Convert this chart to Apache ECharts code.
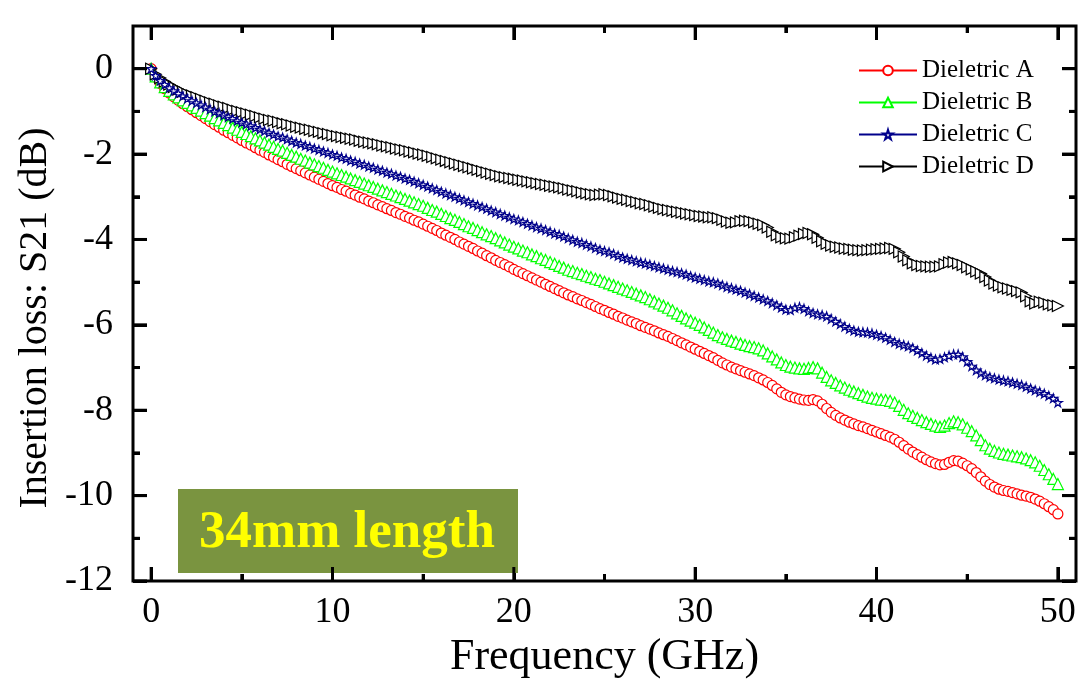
<!DOCTYPE html>
<html><head><meta charset="utf-8">
<script src="https://cdn.jsdelivr.net/npm/echarts@6/dist/echarts.min.js"></script>
<style>html,body{margin:0;padding:0;background:#fff}#c{width:1079px;height:699px}</style>
</head><body><div id="c"></div>
<script>
const freqStepGHz = 0.25;
const seriesNames = ['Dieletric A', 'Dieletric B', 'Dieletric C', 'Dieletric D'];
const seriesColors = ['#ff0000', '#00ff00', '#00008b', '#000000'];

const dielA = [0,-0.20,-0.35,-0.47,-0.57,-0.66,-0.74,-0.82,-0.89,-0.96,-1.03,-1.10,-1.17,-1.24,-1.31,-1.37,-1.44,-1.50,-1.56,-1.62,
-1.68,-1.74,-1.79,-1.85,-1.91,-1.96,-2.02,-2.07,-2.13,-2.18,-2.24,-2.29,-2.34,-2.39,-2.44,-2.49,-2.54,-2.59,-2.64,-2.69,
-2.74,-2.78,-2.83,-2.87,-2.92,-2.96,-3.01,-3.05,-3.10,-3.14,-3.19,-3.23,-3.28,-3.32,-3.37,-3.41,-3.46,-3.50,-3.55,-3.59,
-3.64,-3.69,-3.74,-3.79,-3.85,-3.90,-3.95,-4.00,-4.06,-4.11,-4.16,-4.21,-4.27,-4.32,-4.38,-4.43,-4.49,-4.54,-4.59,-4.64,
-4.70,-4.75,-4.80,-4.85,-4.90,-4.95,-5.00,-5.05,-5.10,-5.15,-5.20,-5.25,-5.30,-5.34,-5.39,-5.43,-5.48,-5.52,-5.57,-5.62,
-5.66,-5.71,-5.75,-5.80,-5.84,-5.89,-5.93,-5.97,-6.02,-6.06,-6.10,-6.14,-6.19,-6.23,-6.27,-6.32,-6.37,-6.42,-6.47,-6.52,
-6.57,-6.62,-6.67,-6.72,-6.77,-6.83,-6.89,-6.94,-6.99,-7.03,-7.07,-7.11,-7.15,-7.19,-7.24,-7.29,-7.35,-7.42,-7.50,-7.58,
-7.64,-7.68,-7.71,-7.74,-7.76,-7.77,-7.75,-7.78,-7.86,-7.96,-8.05,-8.12,-8.18,-8.23,-8.28,-8.32,-8.36,-8.39,-8.43,-8.47,
-8.51,-8.55,-8.59,-8.63,-8.68,-8.75,-8.83,-8.91,-8.98,-9.04,-9.10,-9.16,-9.21,-9.25,-9.28,-9.27,-9.22,-9.18,-9.19,-9.24,
-9.30,-9.37,-9.46,-9.56,-9.66,-9.74,-9.80,-9.85,-9.88,-9.90,-9.93,-9.96,-9.99,-10.01,-10.04,-10.08,-10.13,-10.19,-10.26,-10.33,
-10.43];

const dielB = [0,-0.18,-0.32,-0.43,-0.52,-0.60,-0.67,-0.74,-0.80,-0.86,-0.92,-0.98,-1.04,-1.10,-1.16,-1.21,-1.27,-1.32,-1.38,-1.43,
-1.48,-1.53,-1.58,-1.63,-1.68,-1.73,-1.78,-1.83,-1.88,-1.92,-1.97,-2.02,-2.06,-2.11,-2.15,-2.20,-2.24,-2.28,-2.32,-2.37,
-2.41,-2.45,-2.49,-2.53,-2.57,-2.61,-2.65,-2.69,-2.73,-2.77,-2.81,-2.85,-2.89,-2.93,-2.97,-3.01,-3.05,-3.09,-3.13,-3.17,
-3.21,-3.26,-3.31,-3.35,-3.40,-3.45,-3.50,-3.54,-3.59,-3.64,-3.69,-3.73,-3.78,-3.83,-3.88,-3.92,-3.97,-4.02,-4.07,-4.12,
-4.17,-4.21,-4.26,-4.30,-4.35,-4.39,-4.44,-4.48,-4.53,-4.57,-4.62,-4.66,-4.71,-4.74,-4.78,-4.81,-4.85,-4.88,-4.92,-4.95,
-4.99,-5.03,-5.07,-5.11,-5.15,-5.19,-5.23,-5.27,-5.31,-5.35,-5.40,-5.45,-5.50,-5.55,-5.60,-5.66,-5.73,-5.79,-5.85,-5.90,
-5.95,-6.00,-6.06,-6.12,-6.18,-6.24,-6.29,-6.33,-6.37,-6.40,-6.44,-6.47,-6.50,-6.52,-6.55,-6.60,-6.67,-6.74,-6.81,-6.88,
-6.94,-6.98,-7.00,-7.02,-7.03,-7.01,-6.99,-7.02,-7.12,-7.22,-7.30,-7.36,-7.42,-7.47,-7.52,-7.56,-7.60,-7.64,-7.68,-7.71,
-7.73,-7.75,-7.76,-7.78,-7.82,-7.90,-7.99,-8.07,-8.13,-8.18,-8.23,-8.28,-8.32,-8.36,-8.39,-8.36,-8.30,-8.26,-8.28,-8.33,
-8.41,-8.49,-8.59,-8.70,-8.82,-8.90,-8.95,-8.99,-9.02,-9.04,-9.06,-9.08,-9.10,-9.13,-9.17,-9.22,-9.30,-9.40,-9.50,-9.61,
-9.73];

const dielC = [0,-0.16,-0.28,-0.37,-0.45,-0.52,-0.58,-0.64,-0.70,-0.75,-0.80,-0.85,-0.90,-0.95,-1.00,-1.04,-1.09,-1.13,-1.17,-1.22,
-1.26,-1.30,-1.34,-1.38,-1.42,-1.46,-1.50,-1.54,-1.58,-1.61,-1.65,-1.69,-1.73,-1.76,-1.80,-1.83,-1.87,-1.90,-1.94,-1.97,
-2.01,-2.04,-2.08,-2.11,-2.15,-2.18,-2.22,-2.25,-2.29,-2.32,-2.36,-2.39,-2.43,-2.46,-2.50,-2.53,-2.57,-2.60,-2.64,-2.68,
-2.72,-2.76,-2.80,-2.84,-2.88,-2.92,-2.96,-3.00,-3.04,-3.08,-3.12,-3.16,-3.20,-3.24,-3.28,-3.32,-3.36,-3.40,-3.44,-3.48,
-3.52,-3.55,-3.59,-3.63,-3.67,-3.71,-3.74,-3.78,-3.82,-3.86,-3.89,-3.93,-3.97,-4.01,-4.05,-4.08,-4.12,-4.16,-4.20,-4.24,
-4.27,-4.30,-4.34,-4.38,-4.42,-4.45,-4.48,-4.51,-4.54,-4.56,-4.59,-4.62,-4.65,-4.68,-4.71,-4.74,-4.76,-4.79,-4.82,-4.86,
-4.89,-4.92,-4.95,-4.98,-5.00,-5.03,-5.07,-5.11,-5.14,-5.17,-5.20,-5.24,-5.28,-5.32,-5.36,-5.40,-5.44,-5.49,-5.54,-5.59,
-5.64,-5.65,-5.60,-5.58,-5.62,-5.68,-5.72,-5.75,-5.77,-5.80,-5.86,-5.92,-5.98,-6.04,-6.09,-6.13,-6.16,-6.17,-6.18,-6.20,
-6.23,-6.26,-6.30,-6.35,-6.40,-6.44,-6.47,-6.50,-6.54,-6.60,-6.66,-6.72,-6.77,-6.81,-6.80,-6.76,-6.72,-6.69,-6.69,-6.75,
-6.86,-6.97,-7.06,-7.13,-7.18,-7.22,-7.25,-7.28,-7.30,-7.32,-7.35,-7.38,-7.41,-7.45,-7.49,-7.53,-7.57,-7.61,-7.66,-7.72,
-7.82];

const dielD = [0,-0.13,-0.22,-0.30,-0.37,-0.43,-0.49,-0.54,-0.59,-0.63,-0.67,-0.71,-0.75,-0.79,-0.82,-0.86,-0.89,-0.92,-0.96,-0.99,
-1.02,-1.05,-1.08,-1.11,-1.14,-1.17,-1.20,-1.22,-1.25,-1.28,-1.30,-1.33,-1.36,-1.38,-1.41,-1.43,-1.46,-1.48,-1.51,-1.53,
-1.56,-1.58,-1.60,-1.62,-1.64,-1.66,-1.69,-1.71,-1.73,-1.75,-1.77,-1.80,-1.82,-1.84,-1.87,-1.89,-1.91,-1.94,-1.96,-1.99,
-2.01,-2.04,-2.07,-2.10,-2.13,-2.16,-2.19,-2.22,-2.25,-2.28,-2.31,-2.34,-2.37,-2.40,-2.43,-2.46,-2.49,-2.52,-2.54,-2.56,
-2.58,-2.60,-2.62,-2.64,-2.66,-2.68,-2.70,-2.72,-2.74,-2.76,-2.78,-2.80,-2.83,-2.85,-2.87,-2.90,-2.92,-2.94,-2.96,-2.95,
-2.94,-2.96,-2.99,-3.02,-3.05,-3.07,-3.10,-3.12,-3.15,-3.17,-3.20,-3.23,-3.26,-3.29,-3.31,-3.33,-3.35,-3.37,-3.39,-3.41,
-3.43,-3.45,-3.46,-3.48,-3.48,-3.50,-3.54,-3.58,-3.61,-3.60,-3.57,-3.56,-3.57,-3.60,-3.63,-3.66,-3.72,-3.82,-3.90,-3.95,
-3.97,-3.98,-3.95,-3.91,-3.87,-3.85,-3.88,-3.96,-4.04,-4.10,-4.14,-4.17,-4.19,-4.21,-4.22,-4.24,-4.25,-4.26,-4.25,-4.24,
-4.23,-4.22,-4.21,-4.20,-4.22,-4.30,-4.40,-4.49,-4.56,-4.60,-4.62,-4.63,-4.64,-4.64,-4.63,-4.58,-4.54,-4.53,-4.56,-4.60,
-4.65,-4.70,-4.75,-4.80,-4.88,-4.96,-5.03,-5.08,-5.12,-5.15,-5.18,-5.21,-5.24,-5.33,-5.45,-5.50,-5.46,-5.48,-5.52,-5.54,
-5.56];

const xRange = [-1, 51];
const yRange = [-12, 1];
const xTickRange = [0, 50];
const yTickRange = [-12, 0];
const xTickStep = 10;
const yTickStep = 2;
const xMajorTicks = [0, 10, 20, 30, 40, 50];
const xMinorTicks = [5, 15, 25, 35, 45];
const yMajorTicks = [0, -2, -4, -6, -8, -10, -12];
const yMinorTicks = [-1, -3, -5, -7, -9, -11];

const FONT = '"Liberation Serif", "Times New Roman", serif';
const starPath = 'path://M50,0 L61,35 L98,35 L68,57 L79,91 L50,70 L21,91 L32,57 L2,35 L39,35 Z';
const symbols = ['circle', 'triangle', starPath, 'triangle'];
const symbolSizes = [10, 11, 9, 11];
const symbolRotates = [0, 0, 0, -90];

const allData = [dielA, dielB, dielC, dielD];
const freq = dielA.map((_, i) => i * freqStepGHz);

const W = 1079, H = 699;
const frame = { left: 133, right: 3, top: 26, bottom: 118 };
const fw = W - frame.left - frame.right, fh = H - frame.top - frame.bottom;
const pxPerX = fw / (xRange[1] - xRange[0]);
const pxPerY = fh / (yRange[1] - yRange[0]);
const gridX = { left: frame.left + (xTickRange[0] - xRange[0]) * pxPerX, right: frame.right + (xRange[1] - xTickRange[1]) * pxPerX, top: frame.top, bottom: frame.bottom };
const gridY = { left: frame.left, right: frame.right, top: frame.top + (yRange[1] - yTickRange[1]) * pxPerY, bottom: frame.bottom + (yTickRange[0] - yRange[0]) * pxPerY };

function labelAxis(gi, pos, range, step, isX) {
  return {
    type: 'value', gridIndex: gi, position: pos, min: range[0], max: range[1], interval: step,
    axisLine: { show: false, onZero: false },
    axisTick: { show: false },
    axisLabel: { show: true, margin: isX ? 14 : 20, fontFamily: FONT, fontSize: 36, color: '#000' },
    splitLine: { show: false }
  };
}
const xLabels = labelAxis(1, 'bottom', xTickRange, xTickStep, true);
xLabels.name = 'Frequency (GHz)';
xLabels.nameLocation = 'middle';
xLabels.nameGap = 52;
xLabels.nameTextStyle = { fontFamily: FONT, fontSize: 44, color: '#000' };

// inward tick segments, expressed in the main axes' data units (14 px major, 7 px minor)
const majX = 14 / pxPerX, minX = 7 / pxPerX, majY = 14 / pxPerY, minY = 7 / pxPerY;
const tickSegs = [];
xMajorTicks.forEach(v => { tickSegs.push([{ coord: [v, yRange[0]] }, { coord: [v, yRange[0] + majY] }]); tickSegs.push([{ coord: [v, yRange[1]] }, { coord: [v, yRange[1] - majY] }]); });
xMinorTicks.forEach(v => { tickSegs.push([{ coord: [v, yRange[0]] }, { coord: [v, yRange[0] + minY] }]); tickSegs.push([{ coord: [v, yRange[1]] }, { coord: [v, yRange[1] - minY] }]); });
yMajorTicks.forEach(v => { tickSegs.push([{ coord: [xRange[0], v] }, { coord: [xRange[0] + majX, v] }]); tickSegs.push([{ coord: [xRange[1], v] }, { coord: [xRange[1] - majX, v] }]); });
yMinorTicks.forEach(v => { tickSegs.push([{ coord: [xRange[0], v] }, { coord: [xRange[0] + minX, v] }]); tickSegs.push([{ coord: [xRange[1], v] }, { coord: [xRange[1] - minX, v] }]); });

const dataSeries = seriesNames.map((n, k) => ({
  name: n, type: 'line', xAxisIndex: 0, yAxisIndex: 0,
  data: allData[k].map((v, i) => [freq[i], v]),
  symbol: symbols[k], symbolSize: symbolSizes[k], symbolRotate: symbolRotates[k], symbolKeepAspect: true,
  showSymbol: true,
  lineStyle: { color: seriesColors[k], width: 1.5 },
  itemStyle: { color: '#fff', borderColor: seriesColors[k], borderWidth: 1.2 },
  z: k === 2 ? 5 : 2
}));
const tickSeries = {
  type: 'line', xAxisIndex: 0, yAxisIndex: 0, data: [], silent: true, showSymbol: false, z: 30,
  markLine: { silent: true, symbol: ['none', 'none'], label: { show: false }, animation: false,
    lineStyle: { color: '#000', width: 3, type: 'solid', opacity: 1 }, emphasis: { disabled: true }, data: tickSegs }
};

function baseGraphics() {
  return [
    { type: 'rect', shape: { x: 178, y: 489, width: 340, height: 84 }, style: { fill: '#7a9440' }, z: 10 },
    { type: 'text', x: 347, y: 533, z: 11, style: { text: '34mm length', font: 'bold 53px "Liberation Serif", serif', fill: '#ffff00', align: 'center', verticalAlign: 'middle' } },
    { type: 'text', x: 35, y: 318, rotation: Math.PI / 2, style: { text: 'Insertion loss: S21 (dB)', font: '40px "Liberation Serif", serif', fill: '#000', align: 'center', verticalAlign: 'middle' } }
  ];
}

const chart = echarts.init(document.getElementById('c'), null, { renderer: 'canvas' });
try {
  chart.setOption({
    animation: false,
    grid: [
      Object.assign({ show: true, borderColor: '#000', borderWidth: 3 }, frame),
      Object.assign({}, gridX),
      Object.assign({}, gridY)
    ],
    xAxis: [
      { type: 'value', gridIndex: 0, min: xRange[0], max: xRange[1], show: false },
      xLabels,
      { type: 'value', gridIndex: 2, show: false }
    ],
    yAxis: [
      { type: 'value', gridIndex: 0, min: yRange[0], max: yRange[1], show: false },
      { type: 'value', gridIndex: 1, show: false },
      labelAxis(2, 'left', yTickRange, yTickStep, false)
    ],
    legend: {
      orient: 'vertical', left: 858, top: 58, padding: 0,
      itemWidth: 58, itemHeight: 12, itemGap: 7,
      textStyle: { fontFamily: FONT, fontSize: 25, color: '#000', lineHeight: 25 },
      data: seriesNames
    },
    series: dataSeries.concat([tickSeries]),
    graphic: baseGraphics()
  });
} catch (e) {}

try {
  const ticks = [];
  const add = (p, dx, dy) => ticks.push({ type: 'line', z: 50, shape: { x1: p[0], y1: p[1], x2: p[0] + dx, y2: p[1] + dy }, style: { stroke: '#000', lineWidth: 3 } });
  const px = (x, y) => chart.convertToPixel({ gridIndex: 0 }, [x, y]);
  xMajorTicks.forEach(v => { add(px(v, yRange[0]), 0, -14); add(px(v, yRange[1]), 0, 14); });
  xMinorTicks.forEach(v => { add(px(v, yRange[0]), 0, -7); add(px(v, yRange[1]), 0, 7); });
  yMajorTicks.forEach(v => { add(px(xRange[0], v), 14, 0); add(px(xRange[1], v), -14, 0); });
  yMinorTicks.forEach(v => { add(px(xRange[0], v), 7, 0); add(px(xRange[1], v), -7, 0); });
  chart.setOption({ graphic: baseGraphics().concat(ticks) });
} catch (e) {}
</script>
</body></html>
